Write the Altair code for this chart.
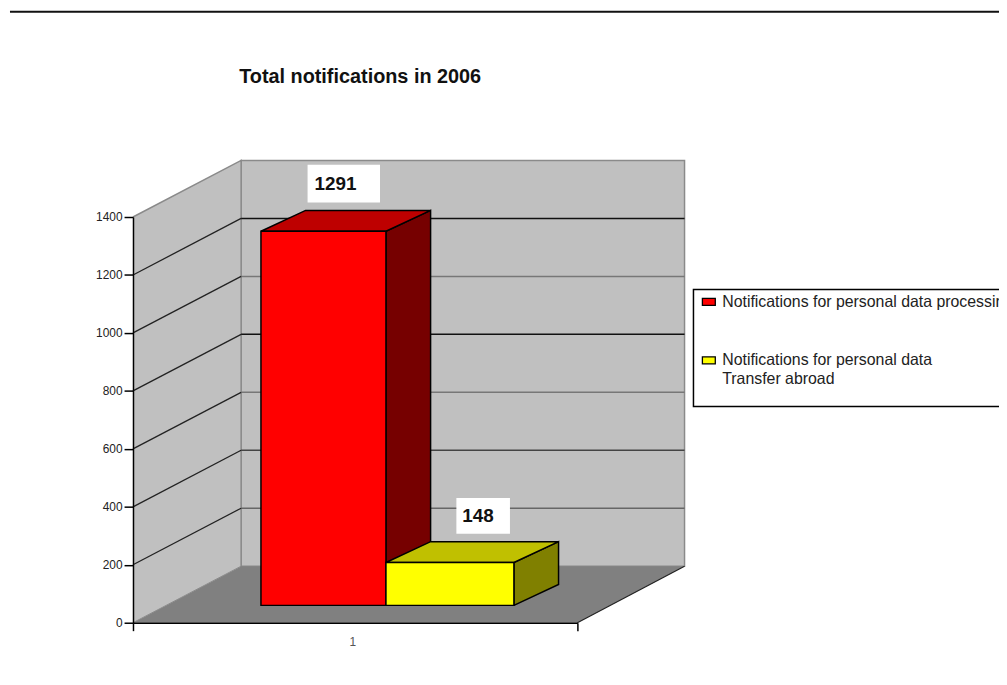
import altair as alt
import pandas as pd

TITLE = "Total notifications in 2006"
VALUES = [1291, 148]
FRONT = ["#FF0000", "#FFFF00"]
SIDE = ["#760000", "#808000"]
TOP = ["#BE0000", "#C0C000"]
Y_TICKS = [0, 200, 400, 600, 800, 1000, 1200, 1400]
GRID_COLORS = ["#666666", "#666666", "#444444", "#777777", "#111111", "#777777", "#111111", "#888888"]
LEGEND = [["Notifications for personal data processing"],
          ["Notifications for personal data", "Transfer abroad"]]
X_LABEL = "1"

W, H = 448, 409
UNIT = 1400 / H                 # value units per pixel


def uy(px):
    return px * UNIT


WALL_DX, WALL_DY = 109, uy(57)
BAR_DX, BAR_DY = 45, uy(21)
BAR_BASE = uy(17.5)
BAR_EDGES = [129, 255, 384]

sx = alt.Scale(domain=[0, W], nice=False, zero=False)
sy = alt.Scale(domain=[0, 1400], nice=False, zero=False)
xaxis = alt.Axis(title=None, values=[0, 221, W], grid=False, tickSize=8, tickColor="#000000",
                 tickWidth=1.5, domainColor="#000000", domainWidth=1.5, labelFont="Liberation Sans",
                 labelFontSize=12, labelColor="#555555", labelPadding=6,
                 labelExpr=f"datum.value == 221 ? '{X_LABEL}' : ''", zindex=2,
                 tickOpacity={"condition": {"test": "datum.value == 221", "value": 0}, "value": 1})
yaxis = alt.Axis(title=None, values=Y_TICKS, grid=False, tickSize=9, tickColor="#000000", format="d",
                 tickWidth=1.5, domainColor="#000000", domainWidth=1.5, labelFont="Liberation Sans",
                 labelFontSize=12, labelColor="#222222", labelPadding=2, zindex=2)
X = alt.X("x:Q", scale=sx, axis=xaxis)
Y = alt.Y("y:Q", scale=sy, axis=yaxis)
X2 = alt.X2("x2:Q")
Y2 = alt.Y2("y2:Q")
layers = []


def outline(pts, color="#000000", width=1.5):
    df = pd.DataFrame({"x": [p[0] for p in pts], "y": [p[1] for p in pts], "i": range(len(pts))})
    layers.append(alt.Chart(df).mark_line(color=color, strokeWidth=width).encode(x=X, y=Y, order="i:Q"))


def v_face(x0, x1, b0, t0, b1, t1, fill, stroke=None, width=1.5):
    df = pd.DataFrame({"x": [x0, x1], "y": [b0, b1], "y2": [t0, t1]})
    layers.append(alt.Chart(df).mark_area(color=fill, opacity=1).encode(x=X, y=Y, y2=Y2))
    if stroke:
        outline([(x0, b0), (x1, b1), (x1, t1), (x0, t0), (x0, b0)], stroke, width)


def h_face(y0, y1, l0, r0, l1, r1, fill, stroke=None, width=1.5):
    df = pd.DataFrame({"y": [y0, y1], "x": [l0, l1], "x2": [r0, r1]})
    layers.append(alt.Chart(df).mark_area(color=fill, opacity=1, orient="horizontal").encode(x=X, x2=X2, y=Y))
    if stroke:
        outline([(l0, y0), (r0, y0), (r1, y1), (l1, y1), (l0, y0)], stroke, width)


def rect(x0, x1, y0, y1, fill, stroke=None, width=1.5):
    df = pd.DataFrame({"x": [x0], "x2": [x1], "y": [y0], "y2": [y1]})
    kw = {"stroke": stroke, "strokeWidth": width} if stroke else {"strokeWidth": 0}
    layers.append(alt.Chart(df).mark_rect(fill=fill, **kw).encode(x=X, x2=X2, y=Y, y2=Y2))


def text(x, y, s, size, weight="normal", color="#222222", align="left"):
    df = pd.DataFrame({"x": [x], "y": [y], "t": [s]})
    layers.append(alt.Chart(df).mark_text(font="Liberation Sans", fontSize=size, fontWeight=weight,
                                          color=color, align=align, baseline="middle")
                  .encode(x=X, y=Y, text="t:N"))


top_val = 1400
# Rule across the top of the page
df_rule = pd.DataFrame({"x": [-124], "x2": [880], "y": [uy(625 - 9)]})
layers.append(alt.Chart(df_rule).mark_rule(color="#111111", strokeWidth=2).encode(x=X, x2=X2, y=Y))

# Title
text(107, uy(625 - 75), TITLE, 20, "bold", "#111111")

# Walls and floor
rect(WALL_DX, W + WALL_DX - 1, WALL_DY, top_val + WALL_DY, "#C0C0C0", "#8A8A8A", 1.5)
v_face(0, WALL_DX, 0, top_val, WALL_DY, top_val + WALL_DY, "#C0C0C0")
outline([(0, top_val), (WALL_DX, top_val + WALL_DY), (WALL_DX, WALL_DY)], "#8A8A8A", 1.5)
h_face(0, WALL_DY, 0, W, WALL_DX, W + WALL_DX - 1, "#808080")
outline([(0, 0), (WALL_DX, WALL_DY)], "#8A8A8A", 1)
outline([(W, 0), (W + WALL_DX - 1, WALL_DY)], "#222222", 1.2)

# Gridlines on back and left walls
for v, c in zip(Y_TICKS[1:-1], GRID_COLORS[1:-1]):
    outline([(WALL_DX, v + WALL_DY), (W + WALL_DX - 1, v + WALL_DY)], c, 1.5)
    outline([(0, v), (WALL_DX, v + WALL_DY)], "#222222", 1.3)

# Bars
for i, val in enumerate(VALUES):
    x0, x1 = BAR_EDGES[i], BAR_EDGES[i + 1]
    b, t = BAR_BASE, BAR_BASE + val
    v_face(x1, x1 + BAR_DX, b, t, b + BAR_DY, t + BAR_DY, SIDE[i], "#000000")
    h_face(t, t + BAR_DY, x0, x1, x0 + BAR_DX, x1 + BAR_DX, TOP[i], "#000000")
    rect(x0, x1, b, t, FRONT[i], "#000000")

# Data labels
LABEL_BOX = [(176, 249), (326, 380)]
LABEL_GAP = [uy(8), uy(8)]
LABEL_H = [uy(38), uy(36)]
LABEL_TX = [183, 332]
for i, val in enumerate(VALUES):
    low = BAR_BASE + val + BAR_DY + LABEL_GAP[i]
    rect(LABEL_BOX[i][0], LABEL_BOX[i][1], low, low + LABEL_H[i], "#FFFFFF")
    text(LABEL_TX[i], low + LABEL_H[i] / 2, str(val), 19, "bold", "#111111")

# Legend
rect(565, 900, uy(625 - 407), uy(625 - 289), "#FFFFFF", "#000000", 1.5)
rows = [301.5, 360.5]
for i, lines in enumerate(LEGEND):
    rect(574, 587, uy(625 - rows[i] - 3.5), uy(625 - rows[i] + 3.5), FRONT[i], "#000000", 1.3)
    for j, s in enumerate(lines):
        text(594, uy(625 - rows[i] - j * 19), s, 16, "normal", "#222222")

chart = alt.layer(*layers).properties(
    width=W, height=H,
    padding={"left": 126, "top": 208, "right": 425, "bottom": 50},
    autosize=alt.AutoSizeParams(type="none"),
    background="#FFFFFF",
).configure_view(stroke=None)

chart.save("out.html", embed_options={"renderer": "svg", "actions": False})
